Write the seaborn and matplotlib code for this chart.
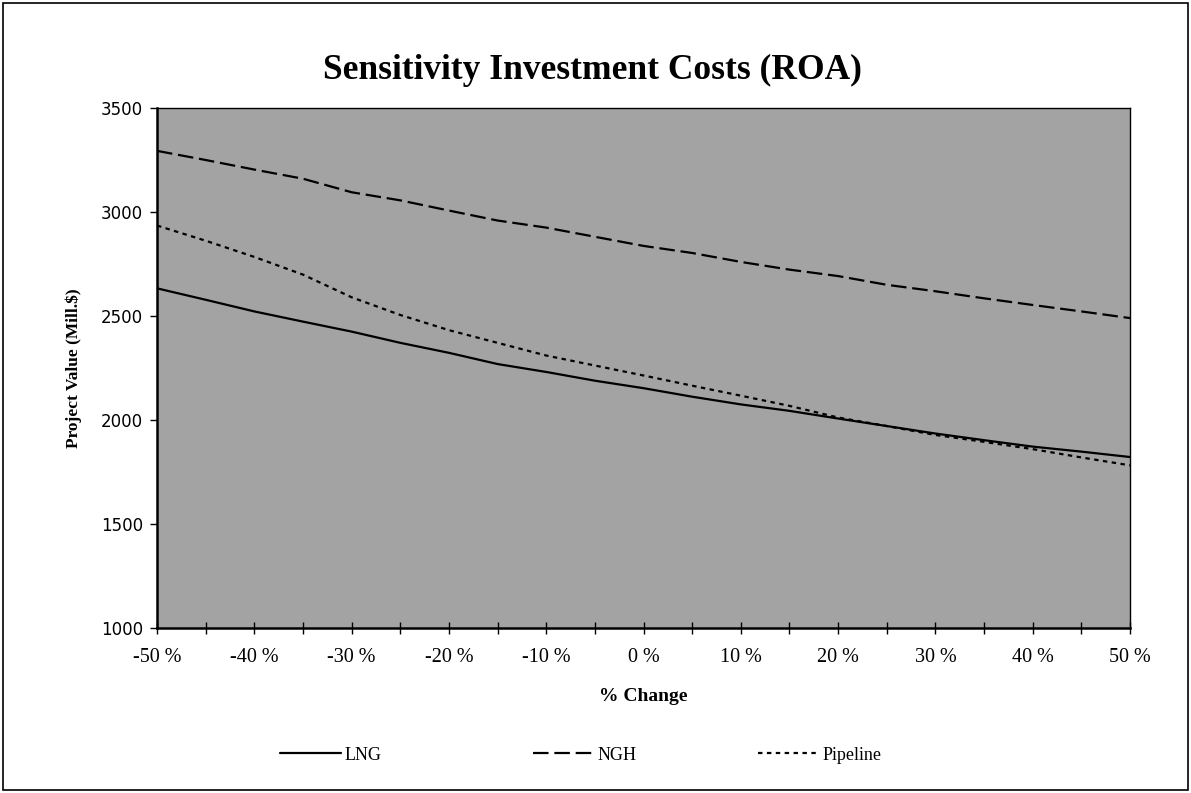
import matplotlib
matplotlib.use("Agg")
import matplotlib.pyplot as plt
import seaborn as sns
import pandas as pd
from matplotlib.patches import Rectangle
from matplotlib.ticker import MultipleLocator, FuncFormatter

pct_change = [-50, -45, -40, -35, -30, -25, -20, -15, -10, -5, 0,
              5, 10, 15, 20, 25, 30, 35, 40, 45, 50]
lng = [2633, 2578, 2522, 2473, 2425, 2371, 2323, 2269, 2231, 2189, 2153,
       2112, 2075, 2044, 2007, 1971, 1935, 1903, 1872, 1848, 1822]
ngh = [3294, 3250, 3204, 3160, 3095, 3056, 3007, 2959, 2925, 2881, 2837,
       2803, 2760, 2723, 2692, 2650, 2619, 2585, 2553, 2522, 2490]
pipeline = [2935, 2862, 2784, 2699, 2590, 2505, 2432, 2371, 2310, 2262, 2214,
            2165, 2117, 2068, 2012, 1971, 1928, 1895, 1860, 1820, 1782]
series_names = ["LNG", "NGH", "Pipeline"]

df = pd.DataFrame({
    "x": pct_change * 3,
    "value": lng + ngh + pipeline,
    "series": [s for s in series_names for _ in pct_change],
})

sns.set_theme(style="white")
plt.rcParams["font.family"] = ["Liberation Serif", "DejaVu Serif"]
plt.rcParams["text.color"] = "black"
plt.rcParams["axes.labelcolor"] = "black"

fig = plt.figure(figsize=(11.91, 7.93), dpi=100)
ax = fig.add_axes([157/1191, 1-628/793, (1130-157)/1191, (628-108)/793])
ax.set_facecolor("#a3a3a3")

sns.lineplot(data=df, x="x", y="value", hue="series", style="series",
             palette={"LNG": "black", "NGH": "black", "Pipeline": "black"},
             dashes={"LNG": "", "NGH": (7, 2.6), "Pipeline": (2.0, 2.0)},
             linewidth=1.6, ax=ax, legend=True)

ax.set_xlim(-50, 50)
ax.set_ylim(1000, 3500)
ax.xaxis.set_major_locator(MultipleLocator(10))
ax.xaxis.set_minor_locator(MultipleLocator(5))
ax.yaxis.set_major_locator(MultipleLocator(500))
ax.xaxis.set_major_formatter(FuncFormatter(lambda v, p: f"{int(round(v))} %"))
ax.tick_params(axis="x", which="both", direction="inout", length=9, width=1,
               bottom=True, labelsize=14.5, pad=10, colors="black")
ax.tick_params(axis="y", which="major", direction="out", length=5, width=1,
               left=True, labelsize=12, pad=5, colors="black")
for lab in ax.get_yticklabels():
    lab.set_fontfamily("DejaVu Sans")
for sp in ax.spines.values():
    sp.set_color("black")
    sp.set_linewidth(1.0)
ax.spines["bottom"].set_linewidth(1.8)
ax.spines["left"].set_linewidth(1.8)

ax.set_xlabel("% Change", fontsize=14, fontweight="bold", labelpad=15)
ax.set_ylabel("Project Value (Mill.$)", fontsize=12.5, fontweight="bold", labelpad=14)
fig.text(592/1191, 1-70/793, "Sensitivity Investment Costs (ROA)",
         ha="center", va="center", fontsize=25.5, fontweight="bold", color="black")

handles, labels = ax.get_legend_handles_labels()
ax.get_legend().remove()
leg_x = [280, 533, 758]
for h, l, xp in zip(handles, labels, leg_x):
    fig.legend([h], [l], loc="center left", bbox_to_anchor=(xp/1191, 1-755/793),
               frameon=False, fontsize=13, handlelength=3.4,
               handletextpad=0.15, borderpad=0, borderaxespad=0)

fig.patches.append(Rectangle((3/1191, 3/793), 1-6/1191, 1-6/793,
                             transform=fig.transFigure, fill=False,
                             edgecolor="black", linewidth=1.2))

fig.savefig("out.png", dpi=100)
